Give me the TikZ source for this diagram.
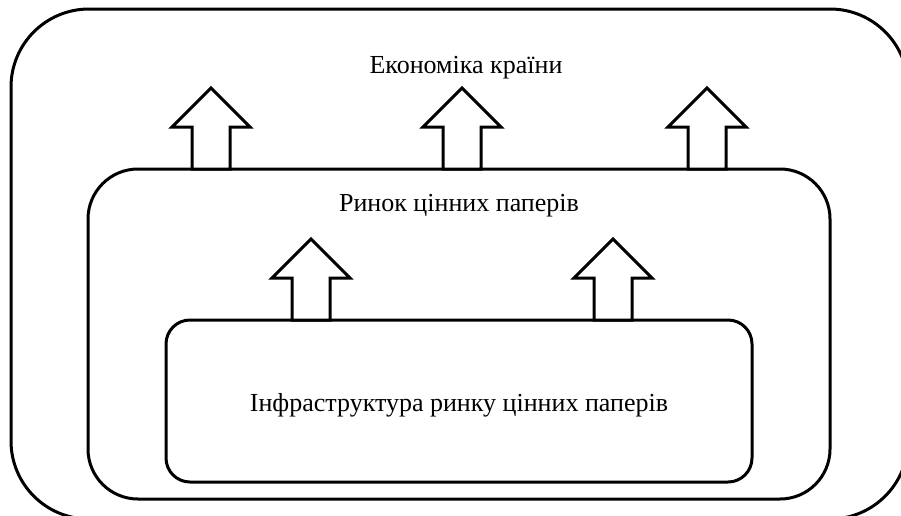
\documentclass[tikz,border=0pt]{standalone}
\usepackage{fontspec}
\setmainfont{Liberation Serif}
\begin{document}
\begin{tikzpicture}[x=1pt,y=-1pt,
  frame/.style={draw=black, line width=3pt, fill=white, inner sep=0pt, outer sep=0pt},
  label/.style={anchor=base, inner sep=0pt, font=\fontsize{26}{30}\selectfont},
  uparrow/.pic={
    \draw[line width=3pt, fill=white, line join=miter]
      (-19,0) -- (-19,-42) -- (-39,-42) -- (0,-81) -- (39,-42) -- (19,-42) -- (19,0) -- cycle;
  }]
\useasboundingbox (0,0) rectangle (901,515);

% nested levels
\node[frame, rounded corners=78pt, minimum width=897pt, minimum height=510pt] (economy) at (459.5,264) {};
\node[frame, rounded corners=50pt, minimum width=742pt, minimum height=330pt] (market) at (459,334) {};
\node[frame, rounded corners=24pt, minimum width=586pt, minimum height=162pt] (infra) at (459,401) {};

% arrows from the market up to the economy
\pic at ([xshift=-248pt]market.north) {uparrow};
\pic at ([xshift=3pt]market.north) {uparrow};
\pic at ([xshift=248pt]market.north) {uparrow};

% arrows from the infrastructure up to the market
\pic at ([xshift=-148pt]infra.north) {uparrow};
\pic at ([xshift=154pt]infra.north) {uparrow};

% captions
\node[label] (economytext) at (466,73) {Економіка країни};
\node[label] (markettext) at (459,211) {Ринок цінних паперів};
\node[label] (infratext) at (459,411) {Інфраструктура ринку цінних паперів};
\end{tikzpicture}
\end{document}
